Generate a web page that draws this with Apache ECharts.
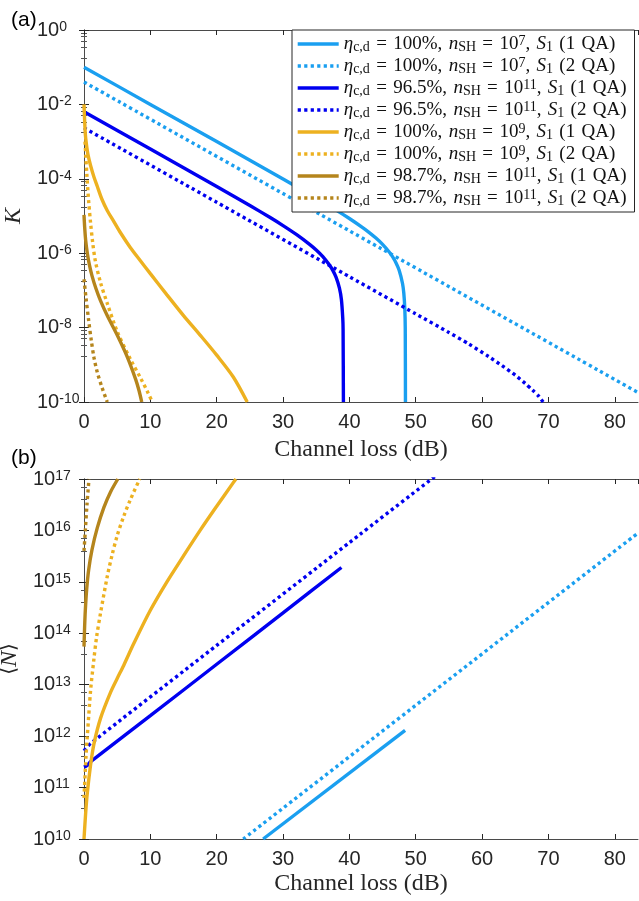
<!DOCTYPE html>
<html>
<head>
<meta charset="utf-8">
<script src="https://cdn.jsdelivr.net/npm/echarts@6/dist/echarts.min.js"></script>
<style>
  html, body { margin: 0; padding: 0; background: #fff; }
  #chart { width: 639px; height: 901px; }
</style>
</head>
<body>
<div id="chart"></div>
<script>
// ---- panel (a): secret key rate K vs channel loss (dB) ----
const lossLbSolidA = [0, 10, 20, 30, 35, 38, 40, 42, 43, 44, 45, 46, 46.5, 47, 47.5, 48, 48.2, 48.35, 48.42, 48.45];
const kLbSolid = [1.0e-1, 1.0e-2, 1.0e-3, 9.86e-5, 3.02e-5, 1.44e-5, 8.57e-6, 4.88e-6, 3.58e-6, 2.55e-6, 1.73e-6, 1.08e-6, 8.1e-7, 5.66e-7, 3.49e-7, 1.56e-7, 8.5e-8, 3.3e-8, 9.9e-9, 1.0e-10];
const lossLbDotA = [0, 40, 83.5];
const kLbDot = [4.0e-2, 4.0e-6, 1.8e-10];
const lossDbSolidA = [0, 10, 20, 25, 28, 30, 32, 34, 35, 36, 37, 37.5, 38, 38.5, 38.8, 39.0, 39.05, 39.1];
const kDbSolid = [6.31e-3, 6.31e-4, 6.23e-5, 1.92e-5, 9.22e-6, 5.53e-6, 3.2e-6, 1.73e-6, 1.22e-6, 8.1e-7, 4.8e-7, 3.46e-7, 2.24e-7, 1.15e-7, 5.6e-8, 1.8e-8, 9.0e-9, 1.0e-10];
const lossDbDotA = [0, 20, 40, 50, 55, 58, 61, 63, 65, 66.5, 67.6, 68.5, 69.2];
const kDbDot = [2.34e-3, 2.34e-5, 2.34e-7, 2.34e-8, 7.4e-9, 3.63e-9, 1.66e-9, 9.5e-10, 5.25e-10, 3.16e-10, 2.09e-10, 1.45e-10, 1.0e-10];
const lossOrSolidA = [0, 0.1, 0.2, 0.35, 0.6, 1.0, 1.5, 2, 2.7, 3.5, 4.5, 5.5, 7, 8.5, 10, 12.5, 15, 17.5, 20, 22.5, 24.6];
const kOrSolid = [1.0e-2, 3.55e-3, 1.58e-3, 8.9e-4, 4.47e-4, 2.24e-4, 1.12e-4, 6.3e-5, 2.82e-5, 1.41e-5, 7.1e-6, 3.55e-6, 1.41e-6, 6.3e-7, 2.82e-7, 7.6e-8, 2.1e-8, 6.3e-9, 1.82e-9, 4.7e-10, 1.0e-10];
const lossOrDotA = [0.15, 0.4, 0.7, 1.0, 1.3, 1.7, 2.5, 3.5, 5, 7, 8.5, 9.5, 10.3];
const kOrDot = [1.0e-3, 1.6e-4, 2.5e-5, 6.3e-6, 2.0e-6, 6.3e-7, 1.6e-7, 4.5e-8, 7.9e-9, 1.41e-9, 4.5e-10, 2.0e-10, 1.0e-10];
const lossBrSolidA = [0, 0.1, 0.25, 0.5, 0.8, 1.2, 1.8, 2.5, 3.5, 5, 6.5, 7.8, 8.3, 8.7];
const kBrSolid = [1.07e-5, 5.0e-6, 2.24e-6, 1.0e-6, 5.0e-7, 2.5e-7, 1.12e-7, 5.2e-8, 2.1e-8, 6.3e-9, 1.66e-9, 4.0e-10, 2.0e-10, 1.0e-10];
const lossBrDotA = [0, 0.3, 0.7, 1.1, 1.5, 2.0, 2.7, 3.5];
const kBrDot = [2.0e-7, 6.3e-8, 1.58e-8, 4.5e-9, 1.58e-9, 6.3e-10, 2.5e-10, 1.0e-10];

// ---- panel (b): mean photon number <N> vs channel loss (dB) ----
const lossLbSolidB = [27, 48.4];
const nLbSolid = [1.0e10, 1.3e12];
const lossLbDotB = [24, 83.5];
const nLbDot = [1.0e10, 8.9e15];
const lossDbSolidB = [0, 0.5, 1, 10, 20, 30, 38.8];
const nDbSolid = [2.5e11, 2.7e11, 3.2e11, 2.5e12, 2.5e13, 2.5e14, 1.9e15];
const lossDbDotB = [0, 1, 20, 40, 53];
const nDbDot = [5.2e11, 7.2e11, 5.8e13, 5.8e15, 1.15e17];
const lossOrSolidB = [0, 0.25, 0.5, 1, 1.5, 2.5, 4, 5, 6, 7.5, 10, 12.5, 15, 17.5, 20, 22.5, 22.9];
const nOrSolid = [1.0e10, 3.2e10, 7.9e10, 2.8e11, 7.1e11, 2.24e12, 7.1e12, 1.32e13, 2.4e13, 6.3e13, 2.8e14, 1.0e15, 3.2e15, 1.0e16, 2.95e16, 8.5e16, 1.0e17];
const lossOrDotB = [0, 0.3, 0.5, 1.0, 1.5, 1.9, 2.5, 3.5, 4.2, 5, 6, 7, 8.4];
const nOrDot = [6.3e10, 4.0e11, 1.0e12, 7.9e12, 3.2e13, 8.5e13, 2.5e14, 1.26e15, 3.2e15, 7.9e15, 1.9e16, 4.0e16, 1.0e17];
const lossBrSolidB = [0, 0.1, 0.2, 0.4, 0.7, 1.2, 2, 3, 4, 5.1];
const nBrSolid = [5.5e13, 1.41e14, 2.8e14, 7.1e14, 1.7e15, 4.2e15, 1.12e16, 2.8e16, 5.6e16, 1.0e17];
const lossBrDotB = [0, 0.2, 0.45, 0.75];
const nBrDot = [4.0e15, 1.0e16, 3.2e16, 1.0e17];

// legend parts
const etaLabels = ['100%', '100%', '96.5%', '96.5%', '100%', '100%', '98.7%', '98.7%'];
const nshExps = ['7', '7', '11', '11', '9', '9', '11', '11'];
const qaLabels = ['1 QA', '2 QA', '1 QA', '2 QA', '1 QA', '2 QA', '1 QA', '2 QA'];

const serif = 'Liberation Serif';
const sans = 'Liberation Sans';
const axisColor = '#262626';
const lineColors = ['#1a9ff0', '#1a9ff0', '#0000f0', '#0000f0', '#edb120', '#edb120', '#b5851c', '#b5851c'];
const smoothness = [0.2, 0.2, 0.2, 0.2, 0.3, 0.3, 0.3, 0.3];
const dotted = [3.2, 3.3];
const sp = '\u2004';

const panelA = [
  [lossLbSolidA, kLbSolid], [lossLbDotA, kLbDot],
  [lossDbSolidA, kDbSolid], [lossDbDotA, kDbDot],
  [lossOrSolidA, kOrSolid], [lossOrDotA, kOrDot],
  [lossBrSolidA, kBrSolid], [lossBrDotA, kBrDot]
];
const panelB = [
  [lossLbSolidB, nLbSolid], [lossLbDotB, nLbDot],
  [lossDbSolidB, nDbSolid], [lossDbDotB, nDbDot],
  [lossOrSolidB, nOrSolid], [lossOrDotB, nOrDot],
  [lossBrSolidB, nBrSolid], [lossBrDotB, nBrDot]
];

const legendNames = etaLabels.map((eta, i) =>
  `η_c,d = ${eta}, n_SH = 10^${nshExps[i]}, S_1 (${qaLabels[i]})`);
const legendRich = etaLabels.map((eta, i) =>
  `{i|η}{sub|c,d}{t|${sp}=${sp}${eta},${sp}}{i|n}{sub|SH}{t|${sp}=${sp}10}{sup|${nshExps[i]}}{t|,${sp}}{i|S}{sub|1}{t|${sp}(${qaLabels[i].replace(' ', sp)})}`);

function lineSeries(pair, i, axisIdx) {
  const [xs, ys] = pair;
  return {
    type: 'line',
    name: legendNames[i],
    xAxisIndex: axisIdx,
    yAxisIndex: axisIdx,
    data: xs.map((x, j) => [x, ys[j]]),
    symbol: 'none',
    smooth: smoothness[i],
    clip: true,
    lineStyle: { color: lineColors[i], width: 3.4, type: i % 2 ? dotted : 'solid' },
    itemStyle: { color: lineColors[i] },
    z: 2
  };
}

const series = [];
panelA.forEach((p, i) => series.push(lineSeries(p, i, 0)));
panelB.forEach((p, i) => series.push(lineSeries(p, i, 1)));

const tickStyle = { inside: true, length: 5, lineStyle: { color: axisColor, width: 1 } };
const lineStyleAxis = { show: true, lineStyle: { color: '#4a4a4a', width: 1 } };

function xAxisFor(grid, pos, showLabels, gap) {
  return {
    type: 'value', gridIndex: grid, position: pos,
    min: 0, max: 83.5, interval: 10,
    axisLine: lineStyleAxis, axisTick: tickStyle,
    splitLine: { show: false },
    axisLabel: {
      show: showLabels, showMaxLabel: false, margin: 10,
      fontFamily: sans, fontSize: 20, color: axisColor
    },
    name: showLabels ? 'Channel loss (dB)' : '',
    nameLocation: 'middle', nameGap: gap,
    nameTextStyle: { fontFamily: serif, fontSize: 24, color: axisColor }
  };
}

function yAxisFor(grid, pos, min, max, step, showLabels, margin, name) {
  return {
    type: 'log', logBase: 10, gridIndex: grid, position: pos,
    min: min, max: max, interval: step,
    axisLine: lineStyleAxis, axisTick: tickStyle,
    minorTick: { show: true, splitNumber: step * 3, length: 3, lineStyle: { color: '#555', width: 1 } },
    splitLine: { show: false },
    axisLabel: {
      show: showLabels, align: 'left', margin: margin,
      formatter: v => `{b|10}{s|${Math.round(Math.log10(v))}}`,
      rich: {
        b: { fontFamily: sans, fontSize: 20, lineHeight: 20, color: axisColor },
        s: { fontFamily: sans, fontSize: 14, lineHeight: 12, verticalAlign: 'top', color: axisColor }
      }
    },
    name: name,
    nameLocation: 'middle', nameGap: 51,
    nameTextStyle: {
      color: axisColor,
      rich: {
        k: { fontFamily: serif, fontSize: 24, fontStyle: 'italic', color: axisColor },
        p: { fontFamily: 'DejaVu Serif', fontSize: 20, color: axisColor }
      }
    }
  };
}

const chart = echarts.init(document.getElementById('chart'));
chart.setOption({
  animation: false,
  backgroundColor: '#fff',
  title: [
    { text: '(a)', left: 6, top: 5, textStyle: { fontFamily: sans, fontSize: 21, fontWeight: 'normal', color: '#000' } },
    { text: '(b)', left: 6, top: 443, textStyle: { fontFamily: sans, fontSize: 21, fontWeight: 'normal', color: '#000' } }
  ],
  grid: [
    { left: 84, top: 30, width: 554, height: 372, outerBoundsMode: 'none' },
    { left: 84, top: 479, width: 554, height: 360, outerBoundsMode: 'none' }
  ],
  xAxis: [
    xAxisFor(0, 'bottom', true, 36),
    xAxisFor(1, 'bottom', true, 33),
    xAxisFor(0, 'top', false, 0),
    xAxisFor(1, 'top', false, 0)
  ],
  yAxis: [
    yAxisFor(0, 'left', 1e-10, 1, 2, true, 47, '{k|K}'),
    yAxisFor(1, 'left', 1e10, 1e17, 1, true, 51, '{p|⟨}{k|N}{p|⟩}'),
    yAxisFor(0, 'right', 1e-10, 1, 2, false, 0, ''),
    yAxisFor(1, 'right', 1e10, 1e17, 1, false, 0, '')
  ],
  legend: {
    data: legendNames,
    orient: 'vertical',
    left: 292, top: 30,
    padding: [4, 8, 4, 4],
    itemWidth: 41, itemHeight: 14, itemGap: 2, itemTextGap: 3,
    backgroundColor: '#fff',
    borderColor: '#262626', borderWidth: 1,
    selectedMode: false,
    itemStyle: { color: 'rgba(0,0,0,0)', borderWidth: 0, opacity: 0 },
    lineStyle: { width: 3.4 },
    formatter: name => legendRich[legendNames.indexOf(name)],
    textStyle: {
      fontFamily: serif, fontSize: 19, color: '#111',
      rich: {
        t: { fontFamily: serif, fontSize: 19, lineHeight: 20, color: '#111' },
        i: { fontFamily: serif, fontSize: 19, lineHeight: 20, fontStyle: 'italic', color: '#111' },
        sub: { fontFamily: serif, fontSize: 14, lineHeight: 10, verticalAlign: 'bottom', color: '#111' },
        sup: { fontFamily: serif, fontSize: 14, lineHeight: 10, verticalAlign: 'top', color: '#111' }
      }
    }
  },
  series: series
});
</script>
</body>
</html>
